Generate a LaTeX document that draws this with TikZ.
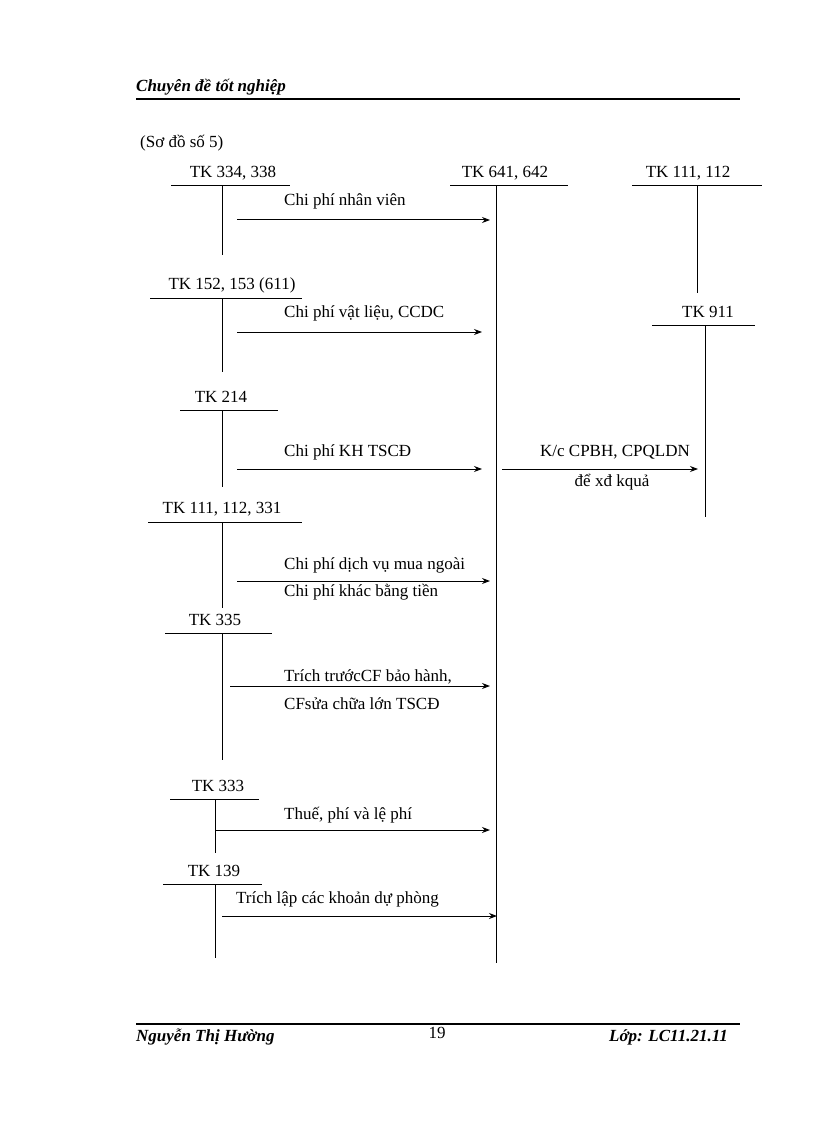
\documentclass[tikz,border=0pt]{standalone}
\usepackage{fontspec}
\setmainfont{Liberation Serif}
\usetikzlibrary{arrows.meta}
\begin{document}
\begin{tikzpicture}[x=1pt,y=-1pt,
  txt/.style={inner sep=0pt,font=\fontsize{17}{19}\selectfont},
  hd/.style={inner sep=0pt,font=\fontsize{17}{19}\selectfont\bfseries\itshape},
  ln/.style={line width=1pt},
  arr/.style={line width=1pt,-{Stealth[length=8pt,width=6pt]}}]
\useasboundingbox (0,0) rectangle (816,1123);
% header/footer
\node[hd,anchor=west] (hdr) at (136,87) {Chuyên đề tốt nghiệp};
\draw[line width=2pt] (136,99) -- (740,99);
\draw[line width=2pt] (136,1024) -- (740,1024);
\node[hd,anchor=west] (ft1) at (136,1037) {Nguyễn Thị Hường};
\node[txt] (pg) at (437,1033) {19};
\node[hd,anchor=east] (ft2) at (728,1037) {Lớp: LC11.21.11};
\node[txt,anchor=west] (title) at (140,143) {(Sơ đồ số 5)};
% accounts
\newcommand{\acct}[8]{% name, text, tx, ty, x1, x2, vx, vy2
  \node[txt] (#1) at (#3,#4) {#2};
  \draw[ln] (#5,#4+13) -- (#6,#4+13);
  \coordinate (#1t) at (#7,#4+13);
  \coordinate (#1b) at (#7,#8);
  \draw[ln] (#1t) -- (#1b);}
\acct{a}{TK 334, 338}{233}{173}{171}{290}{222}{255}
\acct{m}{TK 641, 642}{505}{173}{450}{568}{496}{963}
\acct{c}{TK 111, 112}{688}{173}{632}{762}{697}{293}
\acct{k}{TK 911}{708}{312}{652}{755}{705}{517}
\acct{b}{TK 152, 153 (611)}{232}{285}{150}{302}{222}{372}
\acct{d}{TK 214}{221}{397}{180}{278}{222}{487}
\acct{e}{TK 111, 112, 331}{222}{509}{148}{302}{222}{608}
\acct{f}{TK 335}{215}{620}{165}{272}{222}{760}
\acct{g}{TK 333}{218}{786}{170}{259}{215}{853}
\acct{h}{TK 139}{214}{871}{163}{262}{215}{958}
% arrows
\coordinate (a1) at (237,220); \coordinate (a2) at (490,220);
\draw[arr] (a1) -- (a2);
\node[txt,anchor=west] (l1) at (284,201) {Chi phí nhân viên};
\coordinate (b1) at (237,332); \coordinate (b2) at (482,332);
\draw[arr] (b1) -- (b2);
\node[txt,anchor=west] (l2) at (284,313) {Chi phí vật liệu, CCDC};
\coordinate (d1) at (237,469); \coordinate (d2) at (482,469);
\draw[arr] (d1) -- (d2);
\node[txt,anchor=west] (l3) at (284,452) {Chi phí KH TSCĐ};
\coordinate (k1) at (502,469); \coordinate (k2) at (698,469);
\draw[arr] (k1) -- (k2);
\node[txt] (l4) at (615,452) {K/c CPBH, CPQLDN};
\node[txt] (l5) at (612,482) {để xđ kquả};
\coordinate (e1) at (237,581); \coordinate (e2) at (490,581);
\draw[arr] (e1) -- (e2);
\node[txt,anchor=west] (l6) at (284,565) {Chi phí dịch vụ mua ngoài};
\node[txt,anchor=west] (l7) at (284,592) {Chi phí khác bằng tiền};
\coordinate (f1) at (230,686); \coordinate (f2) at (490,686);
\draw[arr] (f1) -- (f2);
\node[txt,anchor=west] (l8) at (284,677) {Trích trướcCF bảo hành,};
\node[txt,anchor=west] (l9) at (284,704) {CFsửa chữa lớn TSCĐ};
\coordinate (g1) at (215,830); \coordinate (g2) at (490,830);
\draw[arr] (g1) -- (g2);
\node[txt,anchor=west] (l10) at (284,815) {Thuế, phí và lệ phí};
\coordinate (h1) at (222,916); \coordinate (h2) at (497,916);
\draw[arr] (h1) -- (h2);
\node[txt,anchor=west] (l11) at (236,899) {Trích lập các khoản dự phòng};
\end{tikzpicture}
\end{document}
